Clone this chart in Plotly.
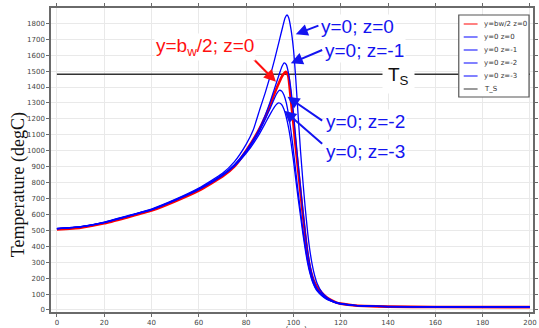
import plotly.graph_objects as go

# Temperature profiles along the weld line (x in mm, T in degC)
x_red = [0, 10, 20, 30, 40, 50, 60, 70, 75, 80, 85, 88, 90, 92, 94, 95.5, 96.8, 97.8, 98.8, 100, 101, 102, 103, 104,
         105, 106, 107, 108, 109, 110, 112, 114, 116, 118, 120, 125, 130, 140, 160, 200]
t_red = [505, 517, 544, 583, 624, 683, 750, 838, 900, 1000, 1120, 1210, 1280, 1360, 1430, 1475, 1496, 1470, 1340, 1170,
         1020, 880, 740, 600, 470, 350, 265, 210, 170, 145, 108, 80, 62, 48, 40, 30, 25, 21, 19, 18]

x_z0 = [0, 10, 20, 30, 40, 50, 60, 70, 75, 80, 83, 86, 88, 90, 92, 94, 95.5, 96.5, 97.3, 98, 99, 100, 101, 102, 103,
        104, 105, 106, 107, 108, 109, 110, 112, 114, 116, 118, 120, 125, 130, 140, 160, 200]
t_z0 = [512, 524, 552, 592, 634, 694, 765, 858, 930, 1040, 1130, 1270, 1360, 1460, 1570, 1690, 1780, 1835, 1852, 1835,
        1760, 1640, 1450, 1220, 1000, 810, 640, 490, 370, 280, 215, 168, 112, 82, 63, 49, 41, 31, 26, 22, 20, 20]

x_z1 = [0, 10, 20, 30, 40, 50, 60, 70, 75, 80, 85, 88, 90, 92, 94, 95.2, 96.1, 97, 98, 99, 100, 101, 102, 103, 104,
        105, 106, 107, 108, 109, 110, 112, 114, 116, 118, 120, 125, 130, 140, 160, 200]
t_z1 = [511, 523, 550, 590, 631, 691, 760, 850, 912, 1000, 1120, 1220, 1300, 1390, 1480, 1530, 1552, 1540, 1480, 1380,
        1240, 1080, 920, 770, 625, 490, 370, 280, 212, 165, 135, 100, 76, 59, 47, 40, 30, 25, 21, 20, 19]

x_z2 = [0, 10, 20, 30, 40, 50, 60, 70, 75, 80, 85, 88, 90, 92, 93, 94, 95, 96, 97, 98, 99, 100, 101, 102, 103, 104,
        105, 106, 107, 108, 109, 110, 112, 114, 116, 118, 120, 125, 130, 140, 160, 200]
t_z2 = [510, 522, 549, 589, 630, 690, 758, 848, 908, 992, 1105, 1195, 1260, 1330, 1360, 1379, 1375, 1350, 1300, 1220,
        1120, 1000, 870, 740, 620, 505, 400, 310, 240, 185, 150, 125, 92, 70, 56, 45, 38, 29, 25, 21, 20, 19]

x_z3 = [0, 10, 20, 30, 40, 50, 60, 70, 75, 80, 85, 88, 90, 92, 93, 93.8, 95, 96, 97, 98, 99, 100, 101, 102, 103, 104,
        105, 106, 107, 108, 109, 110, 112, 114, 116, 118, 120, 125, 130, 140, 160, 200]
t_z3 = [510, 522, 548, 588, 629, 688, 755, 843, 902, 983, 1090, 1170, 1225, 1275, 1293, 1300, 1290, 1260, 1210, 1140,
        1050, 940, 820, 700, 590, 480, 380, 295, 230, 180, 145, 120, 90, 68, 55, 44, 37, 29, 25, 21, 20, 19]

# Solidus temperature
x_ts = [0, 200]
t_ts = [1480, 1480]

names = ["y=bw/2 z=0", "y=0 z=0", "y=0 z=-1", "y=0 z=-2", "y=0 z=-3", "T_S"]
colors = ["#ff0000", "#0000ff", "#0000ff", "#0000ff", "#0000ff", "#333333"]
widths = [2.6, 1.3, 1.3, 1.3, 1.3, 1.6]
xs = [x_red, x_z0, x_z1, x_z2, x_z3, x_ts]
ts = [t_red, t_z0, t_z1, t_z2, t_z3, t_ts]

# Callout labels: text, text anchor (x, T), arrow tail (x, T), arrow head (x, T), colour
callouts = [
    ("y=b<sub>w</sub>/2; z=0", (41.0, 1651), (80.8, 1611), (92.6, 1433), "#ff1010"),
    ("y=0; z=0", (111.0, 1783), (111.2, 1789), (101.0, 1731), "#1414f0"),
    ("y=0; z=-1", (112.6, 1632), (112.8, 1636), (98.9, 1549), "#1414f0"),
    ("y=0; z=-2", (113.0, 1186), (112.8, 1182), (97.5, 1339), "#1414f0"),
    ("y=0; z=-3", (113.0, 998), (112.8, 1036), (96.1, 1251), "#1414f0"),
]

fig = go.Figure()

# draw T_S first, then red, then the blue family on top
order = [5, 0, 1, 2, 3, 4]
for i in order:
    fig.add_trace(go.Scatter(x=xs[i], y=ts[i], mode="lines", name=names[i],
                             line=dict(color=colors[i], width=widths[i], shape="spline", smoothing=0.5),
                             showlegend=False, hoverinfo="skip"))

annotations = []
for text, (tx, ty), (ax, ay), (hx, hy), col in callouts:
    annotations.append(dict(x=hx, y=hy, ax=ax, ay=ay, xref="x", yref="y", axref="x", ayref="y",
                            text="", showarrow=True, arrowhead=2, arrowsize=1.2, arrowwidth=2,
                            arrowcolor=col, standoff=0, startstandoff=0))
    annotations.append(dict(x=tx, y=ty, xref="x", yref="y", text=text, showarrow=False,
                            xanchor="left", yanchor="middle", bgcolor="white", borderpad=1,
                            font=dict(family="Liberation Sans, Arial", size=19, color=col)))

annotations.append(dict(x=144.6, y=1470, xref="x", yref="y", text="T<sub>S</sub>", showarrow=False,
                        xanchor="center", yanchor="middle", bgcolor="white", borderpad=5,
                        font=dict(family="Liberation Sans, Arial", size=19, color="#111111")))

# axis titles
annotations.append(dict(x=-0.0657, y=0.418, xref="paper", yref="paper", text="Temperature (degC)",
                        textangle=-90, showarrow=False, xanchor="center", yanchor="middle",
                        font=dict(family="Liberation Serif, Times New Roman", size=18, color="#111111")))
annotations.append(dict(x=0.5, y=-0.04, xref="paper", yref="paper", text="x (mm)", showarrow=False,
                        xanchor="center", yanchor="top",
                        font=dict(family="DejaVu Sans", size=8, color="#444444")))

# legend box
W, H, L, B = 487.0, 304.0, 51.0, 312.0


def px(v):
    return (v - L) / W


def py(v):
    return (B - v) / H


shapes = [dict(type="rect", xref="paper", yref="paper", x0=px(463), x1=px(534), y0=py(97), y1=py(15),
               line=dict(color="#555555", width=1.2), fillcolor="white", layer="above")]
for k, name in enumerate(names):
    yy = 24 + 13 * k
    shapes.append(dict(type="line", xref="paper", yref="paper", x0=px(468), x1=px(482), y0=py(yy), y1=py(yy),
                       line=dict(color=colors[k], width=1.4), opacity=0.7, layer="above"))
    annotations.append(dict(x=px(486), y=py(yy), xref="paper", yref="paper", text=name,
                            showarrow=False, xanchor="left", yanchor="middle",
                            font=dict(family="DejaVu Sans", size=7, color="#333333")))

axis_common = dict(showgrid=True, gridcolor="#e9e9e9", gridwidth=1, zeroline=False,
                   showline=True, linecolor="#6a6a6a", linewidth=1.5, mirror="ticks",
                   ticks="outside", ticklen=3, tickcolor="#6a6a6a",
                   tickfont=dict(family="DejaVu Sans", size=7, color="#444444"))

fig.update_layout(
    width=539, height=328,
    margin=dict(l=51, r=1, t=8, b=16),
    paper_bgcolor="white", plot_bgcolor="white",
    xaxis=dict(range=[-2.5, 201.3], dtick=20, tick0=0, **axis_common),
    yaxis=dict(range=[-12.6, 1896], dtick=100, tick0=0, **axis_common),
    annotations=annotations,
    shapes=shapes,
    showlegend=False,
)

fig.write_html("out.html")
